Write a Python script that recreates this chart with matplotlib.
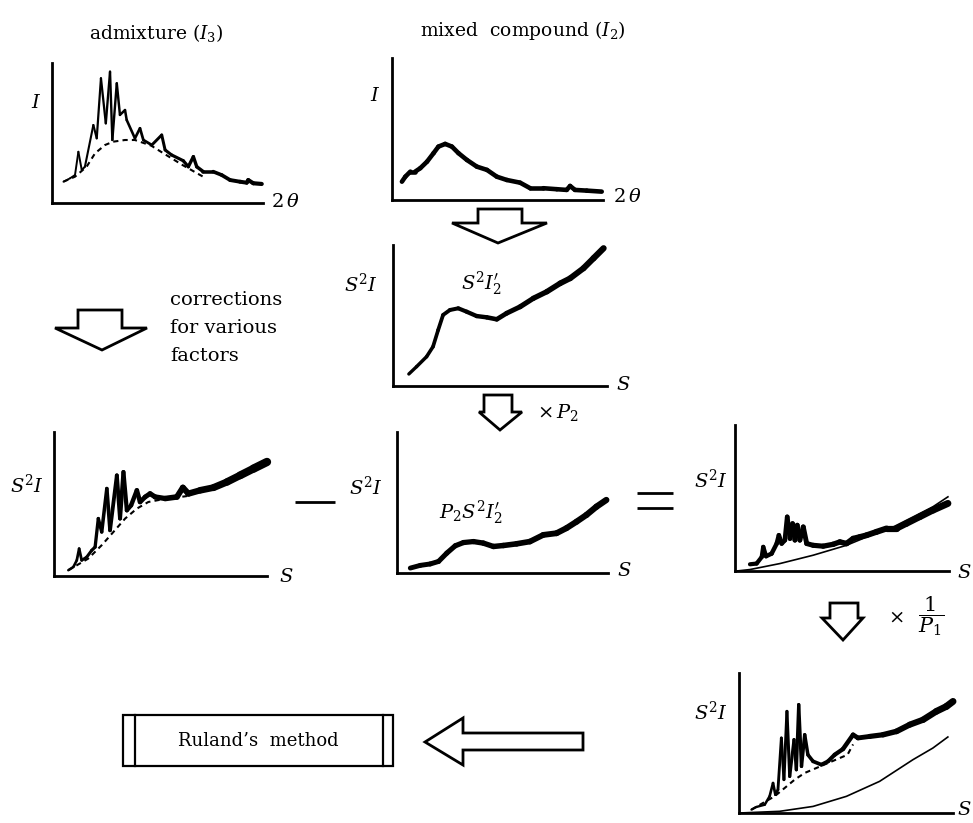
import numpy as np
import matplotlib
matplotlib.use("Agg")
import matplotlib.pyplot as plt
from matplotlib.collections import LineCollection
from matplotlib.patches import Polygon, Rectangle

plt.rcParams['font.family'] = ['DejaVu Serif']
plt.rcParams['mathtext.fontset'] = 'dejavuserif'

# ---- traces (arbitrary units, 0-10 on both axes) ----
# admixture, raw intensity vs 2theta
admix_x = [0.54, 0.85, 1.09, 1.25, 1.41, 1.56, 1.96, 2.12, 2.32, 2.55, 2.75, 2.86,
           3.07, 3.22, 3.46, 3.54, 3.93, 4.17, 4.33, 4.73, 5.20, 5.36, 5.67, 6.22,
           6.46, 6.70, 6.86, 7.17, 7.64, 8.04, 8.44, 8.91, 9.23, 9.30, 9.54, 9.94]
admix_y = [1.52, 1.76, 2.00, 3.66, 2.36, 2.59, 5.57, 4.62, 8.91, 5.69, 9.38, 4.50,
           8.55, 6.29, 6.64, 5.93, 4.62, 5.34, 4.50, 4.14, 4.86, 3.79, 3.43, 3.02,
           2.59, 3.31, 2.59, 2.24, 2.24, 2.00, 1.64, 1.52, 1.45, 1.64, 1.41, 1.36]
admix_bg_x = [0.54, 1.09, 1.64, 2.04, 2.51, 2.90, 3.46, 3.93, 4.70, 5.26, 6.20, 7.16]
admix_bg_y = [1.52, 1.88, 2.59, 3.55, 4.14, 4.38, 4.50, 4.50, 4.10, 3.57, 2.70, 1.88]

# mixed compound, raw intensity vs 2theta
mixed_x = [0.47, 0.63, 0.87, 1.10, 1.34, 1.66, 1.97, 2.20, 2.52, 2.84, 3.15, 3.55,
           4.02, 4.50, 4.97, 5.44, 6.07, 6.55, 7.17, 7.81, 8.28, 8.44, 8.67, 9.23, 9.94]
mixed_y = [1.29, 1.64, 2.00, 2.00, 2.24, 2.70, 3.30, 3.76, 3.95, 3.76, 3.30, 2.82,
           2.35, 2.12, 1.64, 1.41, 1.22, 0.83, 0.83, 0.76, 0.71, 0.99, 0.71, 0.66, 0.59]

# mixed compound after corrections, S^2 I2'
corr_x = [0.74, 1.10, 1.57, 1.87, 2.11, 2.34, 2.66, 3.05, 3.44, 3.91, 4.38, 4.85,
          5.31, 5.94, 6.56, 7.19, 7.81, 8.28, 8.90, 9.37, 9.84]
corr_y = [0.85, 1.37, 2.08, 2.79, 3.97, 5.04, 5.39, 5.51, 5.27, 4.96, 4.87, 4.73,
          5.16, 5.62, 6.22, 6.69, 7.28, 7.64, 8.35, 9.06, 9.77]

# admixture after corrections, S^2 I
adm_s_x = [0.67, 0.91, 1.07, 1.18, 1.30, 1.54, 1.77, 1.93, 2.08, 2.24, 2.48, 2.63,
           2.95, 3.10, 3.26, 3.42, 3.62, 3.89, 4.04, 4.28, 4.51, 4.75, 5.22, 5.77,
           6.05, 6.31, 6.86, 7.49, 8.12, 8.74, 9.37, 10.0]
adm_s_y = [0.40, 0.63, 1.09, 1.90, 1.09, 1.32, 1.78, 2.01, 3.99, 3.06, 6.07, 3.17,
           6.99, 3.99, 7.22, 4.56, 4.91, 5.95, 5.14, 5.49, 5.72, 5.49, 5.38, 5.49,
           6.14, 5.72, 5.95, 6.14, 6.53, 6.99, 7.46, 7.92]
adm_s_bg_x = [0.67, 1.61, 2.24, 2.79, 3.34, 3.89, 4.43, 5.00, 6.24]
adm_s_bg_y = [0.40, 1.21, 2.14, 3.06, 3.99, 4.68, 5.14, 5.30, 5.55]

# scaled mixed compound, P2 S^2 I2'
scaled_x = [0.63, 1.10, 1.57, 1.97, 2.36, 2.76, 3.15, 3.62, 4.09, 4.57, 5.04, 5.67,
            6.30, 6.93, 7.56, 8.03, 8.51, 8.98, 9.45, 9.92]
scaled_y = [0.35, 0.54, 0.64, 0.82, 1.41, 1.93, 2.16, 2.23, 2.12, 1.88, 1.95, 2.07,
            2.23, 2.70, 2.82, 3.18, 3.64, 4.12, 4.70, 5.18]

# difference curve and independent scattering
diff_x = [0.70, 1.01, 1.25, 1.32, 1.45, 1.71, 1.95, 2.05, 2.18, 2.33, 2.44, 2.57,
          2.69, 2.80, 2.91, 3.03, 3.19, 3.35, 3.65, 4.12, 4.59, 4.90, 5.21, 5.52,
          5.83, 6.15, 6.61, 7.08, 7.55, 8.01, 8.63, 9.25, 9.95]
diff_y = [0.46, 0.51, 0.96, 1.65, 1.01, 1.19, 1.88, 2.45, 1.88, 2.11, 3.71, 2.22,
          3.25, 2.11, 3.14, 2.11, 3.02, 1.88, 1.76, 1.70, 1.83, 1.99, 1.88, 2.22,
          2.33, 2.45, 2.68, 2.91, 2.91, 3.25, 3.71, 4.17, 4.63]
diff_inc_x = [0.08, 0.70, 2.10, 3.65, 5.21, 6.15, 7.40, 8.33, 9.25, 9.95]
diff_inc_y = [0.00, 0.10, 0.51, 1.08, 1.76, 2.33, 3.02, 3.71, 4.40, 5.08]

# difference divided by P1
final_x = [0.58, 0.81, 1.20, 1.43, 1.59, 1.70, 1.82, 1.98, 2.10, 2.24, 2.37, 2.57,
           2.68, 2.79, 2.92, 3.07, 3.22, 3.46, 3.85, 4.16, 4.47, 4.86, 5.33, 5.56,
           6.11, 6.73, 7.36, 7.98, 8.60, 9.22, 9.69, 10.0]
final_y = [0.24, 0.43, 0.59, 1.19, 2.14, 1.31, 1.66, 5.36, 2.38, 7.26, 2.61, 5.24,
           3.09, 7.74, 3.33, 5.59, 4.16, 3.69, 3.45, 3.69, 4.16, 4.57, 5.59, 5.36,
           5.47, 5.59, 5.83, 6.31, 6.66, 7.26, 7.61, 7.97]
final_bg_x = [0.58, 1.66, 2.13, 2.60, 3.07, 3.61, 4.16, 5.07, 5.33]
final_bg_y = [0.24, 1.19, 1.78, 2.38, 2.86, 3.21, 3.57, 4.16, 4.90]
final_inc_x = [0.03, 1.90, 3.46, 5.02, 6.57, 8.13, 9.06, 9.76]
final_inc_y = [0.00, 0.12, 0.47, 1.19, 2.26, 3.81, 4.64, 5.43]

# ---- figure ----
W, H = 973, 823
fig = plt.figure(figsize=(W / 100, H / 100), dpi=100)
fig.patch.set_facecolor('white')

ov = fig.add_axes([0, 0, 1, 1])
ov.set_xlim(0, W)
ov.set_ylim(H, 0)
ov.axis('off')


def panel(x0, x1, y_top, y_bot):
    ax = fig.add_axes([x0 / W, 1 - y_bot / H, (x1 - x0) / W, (y_bot - y_top) / H])
    ax.set_xlim(0, 10)
    ax.set_ylim(0, 10)
    ax.patch.set_alpha(0)
    for s in ('top', 'right'):
        ax.spines[s].set_visible(False)
    for s in ('left', 'bottom'):
        ax.spines[s].set_linewidth(2.0)
        ax.spines[s].set_capstyle('projecting')
    ax.set_xticks([])
    ax.set_yticks([])
    return ax


def trace(ax, x, y, w0, w1):
    pts = np.column_stack([x, y])
    segs = np.stack([pts[:-1], pts[1:]], axis=1)
    mid = (pts[:-1, 0] + pts[1:, 0]) / 2.0
    widths = w0 + (w1 - w0) * (mid - mid.min()) / (mid.max() - mid.min())
    lc = LineCollection(segs, linewidths=widths, colors='black',
                        capstyle='round', joinstyle='round', clip_on=False)
    ax.add_collection(lc)


def dashed(ax, x, y):
    ax.plot(x, y, color='black', lw=1.5, ls=(0, (2.5, 2.0)), clip_on=False)


def thin(ax, x, y):
    ax.plot(x, y, color='black', lw=1.2, clip_on=False)


def block_arrow(pts):
    ov.add_patch(Polygon(pts, closed=True, facecolor='white',
                         edgecolor='black', lw=2.0, joinstyle='miter'))


TS = 14  # axis-label size
LS = 13.5  # caption size

# admixture raw
a1 = panel(52, 263, 63, 203)
trace(a1, admix_x, admix_y, 1.3, 3.0)
dashed(a1, admix_bg_x, admix_bg_y)
ov.text(156, 33, r"admixture $(I_3)$", ha='center', va='center', fontsize=LS)
ov.text(36, 103, r"$I$", ha='center', va='center', fontsize=TS)
ov.text(285, 202, r"$2\,\theta$", ha='center', va='center', fontsize=TS)

# mixed compound raw
a2 = panel(392, 603, 58, 200)
trace(a2, mixed_x, mixed_y, 3.3, 3.3)
ov.text(523, 30, r"mixed  compound $(I_2)$", ha='center', va='center', fontsize=LS)
ov.text(375, 96, r"$I$", ha='center', va='center', fontsize=TS)
ov.text(627, 197, r"$2\,\theta$", ha='center', va='center', fontsize=TS)

block_arrow([(478, 209), (522, 209), (522, 223), (547, 223), (498, 243),
             (452, 223), (478, 223)])

# mixed compound corrected
a3 = panel(393, 607, 245, 386)
trace(a3, corr_x, corr_y, 2.4, 4.5)
ov.text(361, 284, r"$S^{2}I$", ha='center', va='center', fontsize=TS)
ov.text(481, 284, r"$S^{2}I_{2}'$", ha='center', va='center', fontsize=TS)
ov.text(623, 385, r"$S$", ha='center', va='center', fontsize=TS)

block_arrow([(484, 395), (512, 395), (512, 412), (522, 412), (500, 430),
             (479, 412), (484, 412)])
ov.text(537, 412, r"$\times\,P_2$", ha='left', va='center', fontsize=TS)

# corrections arrow on the left
block_arrow([(78, 310), (122, 310), (122, 328), (147, 328), (102, 350),
             (55, 328), (78, 328)])
ov.text(170, 300, "corrections", ha='left', va='center', fontsize=14)
ov.text(170, 328, "for various", ha='left', va='center', fontsize=14)
ov.text(170, 356, "factors", ha='left', va='center', fontsize=14)

# admixture corrected
a4 = panel(54, 267, 432, 576)
trace(a4, adm_s_x, adm_s_y, 1.8, 6.0)
dashed(a4, adm_s_bg_x, adm_s_bg_y)
ov.text(27, 485, r"$S^{2}I$", ha='center', va='center', fontsize=TS)
ov.text(286, 577, r"$S$", ha='center', va='center', fontsize=TS)
ov.plot([295, 335], [502, 502], color='black', lw=2.0, solid_capstyle='butt')

# scaled mixed compound
a5 = panel(397, 608, 432, 573)
trace(a5, scaled_x, scaled_y, 3.5, 4.5)
ov.text(366, 487, r"$S^{2}I$", ha='center', va='center', fontsize=TS)
ov.text(471, 513, r"$P_{2}S^{2}I_{2}'$", ha='center', va='center', fontsize=TS)
ov.text(624, 571, r"$S$", ha='center', va='center', fontsize=TS)
ov.plot([637, 673], [493, 493], color='black', lw=2.0, solid_capstyle='butt')
ov.plot([637, 673], [508, 508], color='black', lw=2.0, solid_capstyle='butt')

# difference
a6 = panel(735, 949, 425, 571)
trace(a6, diff_x, diff_y, 3.0, 5.0)
thin(a6, diff_inc_x, diff_inc_y)
ov.text(711, 480, r"$S^{2}I$", ha='center', va='center', fontsize=TS)
ov.text(971, 573, r"$S$", ha='right', va='center', fontsize=TS)

block_arrow([(830, 603), (858, 603), (858, 618), (863, 618), (843, 640),
             (822, 618), (830, 618)])
ov.text(896, 618, r"$\times$", ha='center', va='center', fontsize=TS)
ov.text(931, 616, r"$\dfrac{1}{P_1}$", ha='center', va='center', fontsize=15)

# final curve
a7 = panel(739, 953, 673, 813)
trace(a7, final_x, final_y, 1.6, 5.0)
dashed(a7, final_bg_x, final_bg_y)
thin(a7, final_inc_x, final_inc_y)
ov.text(711, 712, r"$S^{2}I$", ha='center', va='center', fontsize=TS)
ov.text(971, 810, r"$S$", ha='right', va='center', fontsize=TS)

# to Ruland's method
block_arrow([(583, 733), (583, 750), (463, 750), (463, 765), (425, 742),
             (463, 718), (463, 733)])
ov.add_patch(Rectangle((123, 715), 270, 51, facecolor='none',
                       edgecolor='black', lw=1.6))
ov.plot([135, 135], [715, 766], color='black', lw=1.6)
ov.plot([383, 383], [715, 766], color='black', lw=1.6)
ov.text(258, 741, "Ruland\u2019s  method", ha='center', va='center', fontsize=13)

fig.savefig("out.png", dpi=100, facecolor='white')
